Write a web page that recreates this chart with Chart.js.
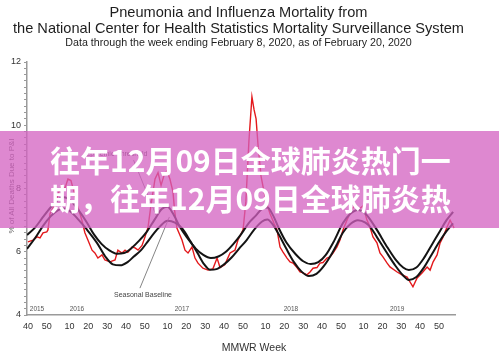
<!DOCTYPE html>
<html>
<head>
<meta charset="utf-8">
<script src="https://cdn.jsdelivr.net/npm/chart.js@4.4.1/dist/chart.umd.min.js"></script>
<style>
  html, body { margin: 0; padding: 0; background: #fff; }
  #wrap { position: relative; width: 499px; height: 359px; overflow: hidden; font-family: "Liberation Sans", Arial, sans-serif; }
  #chart { position: absolute; left: 0; top: 0; }
  .ttl { position: absolute; left: 0; width: 477px; text-align: center; color: #1e1e1e; white-space: nowrap; }
  #t1 { top: 4px; font-size: 14.6px; line-height: 17px; }
  #t2 { top: 20px; font-size: 14.6px; line-height: 17px; }
  #t3 { top: 36px; font-size: 10.7px; line-height: 13px; }
  #xt { position: absolute; left: 204px; width: 100px; top: 341px; text-align: center; font-size: 10.5px; line-height: 12px; color: #333; }
  #yt { position: absolute; left: -48px; top: 181px; width: 120px; text-align: center; font-size: 8px; line-height: 10px; color: #555; transform: rotate(-90deg); white-space: nowrap; }
  #band { position: absolute; left: 0; top: 131px; width: 499px; height: 97px; background: rgba(211, 96, 192, 0.75); }
  .cn { position: absolute; left: 50px; font-family: "Noto Sans CJK SC", sans-serif; font-weight: bold; font-size: 30px; line-height: 38px; color: #fff; white-space: nowrap; }
  #c1 { top: 140px; }
  #c2 { top: 178px; }
</style>
</head>
<body>
<div id="wrap">
  <canvas id="chart" width="499" height="359"></canvas>
  <div class="ttl" id="t1">Pneumonia and Influenza Mortality from</div>
  <div class="ttl" id="t2">the National Center for Health Statistics Mortality Surveillance System</div>
  <div class="ttl" id="t3">Data through the week ending February 8, 2020, as of February 20, 2020</div>
  <div id="yt">% of All Deaths Due to P&amp;I</div>
  <div id="xt">MMWR Week</div>
  <div id="band"></div>
  <div class="cn" id="c1">往年12月09日全球肺炎热门一</div>
  <div class="cn" id="c2">期，往年12月09日全球肺炎热</div>
</div>
<script>
// weeks counted from MMWR week 40 of 2015 (0 = 2015 wk40)
const startWeek = 40;
const weeksPerYear = 52;
const xTickWeeks = [40, 50, 10, 20, 30, 40, 50, 10, 20, 30, 40, 50, 10, 20, 30, 40, 50, 10, 20, 30, 40, 50];

const yearLabels = ['2015', '2016', '2017', '2018', '2019'];
const yearWeek = [4.8, 26, 81.7, 139.5, 195.8];

// % of all deaths due to P&I (red)
const redWeek = [0, 2.7, 4.8, 6.4, 8, 10, 10.6, 11.7, 13.3, 14.9, 16.4, 18, 19.6, 21.2, 22.8, 24.4, 26, 27.6, 28.6, 30.2,
  31.8, 34, 35.5, 37.1, 39.3, 40.8, 43.5, 46.2, 47.7, 49.9, 51.5, 53, 55.2, 56.8, 58.4, 60.5, 62.1, 63.7, 65.3, 67.4,
  69, 70.6, 72.1, 73.7, 75.3, 76.9, 77.8, 79, 81.7, 83.3, 84.9, 87, 88.6, 90.2, 92.8, 95.5, 98.1, 100.3, 101.9, 104.5,
  107.2, 109.8, 111.4, 114.1, 115.6, 117.2, 118.8, 119.9, 121, 122, 123.6, 125.2, 126.8, 128.4, 130.5, 132.1, 133.7, 135.3, 137.4, 139,
  140.6, 142.7, 144.3, 145.9, 148, 149.6, 151.2, 153.3, 154.9, 156.5, 158.6, 160.2, 161.8, 163.9, 165.5, 167.1, 169.2, 171.4, 173.5, 175.6,
  177.7, 179.8, 181.4, 183, 185.1, 186.7, 188.3, 190.5, 192, 195.8, 198.4, 201.1, 204.2, 206.4, 209, 211.7, 213.3, 214.9, 217, 218.6,
  220.2, 222.3, 223.9, 226];
const redPct = [6.31, 6.37, 6.47, 6.44, 6.6, 6.63, 6.69, 7.2, 7.4, 7.6, 7.9, 8.1, 8.0, 8.3, 8.25, 7.9, 7.5, 7.2, 7.0, 6.6,
  6.37, 6.05, 5.96, 5.8, 5.9, 5.74, 5.68, 5.74, 6.05, 5.96, 6.05, 5.98, 6.15, 6.12, 6.05, 6.2, 6.47, 6.78, 7.5, 8.3,
  8.5, 8.1, 8.4, 8.55, 8.3, 7.9, 7.3, 6.75, 6.37, 6.05, 5.96, 6.15, 5.8, 5.64, 5.48, 5.42, 5.46, 5.8, 5.5, 5.6,
  5.96, 6.05, 6.37, 6.69, 7.6, 9.5, 10.9, 10.5, 10.2, 9.4, 8.4, 7.9, 7.5, 7.2, 6.9, 6.69, 6.15, 5.99, 5.8, 5.68,
  5.64, 5.5, 5.36, 5.33, 5.27, 5.36, 5.48, 5.5, 5.64, 5.66, 5.8, 5.84, 5.96, 6.15, 6.37, 6.69, 7.0, 7.3, 7.5, 7.35,
  7.45, 7.0, 6.78, 6.47, 6.28, 5.96, 5.84, 5.64, 5.52, 5.36, 5.27, 5.2, 4.89, 5.17, 5.33, 5.52, 5.42, 5.68, 5.9, 6.28,
  6.47, 6.78, 7.0, 6.75];

// epidemic threshold (upper black)
const threshWeek = [-0.5, 4, 8, 12, 16, 19, 23, 27, 31, 35, 39, 43, 47, 51, 55, 59, 63, 67, 71, 74,
  77, 80.6, 85, 89, 93, 97, 101, 105, 109, 113, 117, 121, 124, 127, 130, 133, 137, 142, 146, 150,
  154, 158, 162, 167, 171, 175, 179, 185, 190, 195, 199, 202, 206, 210, 214, 218, 222, 225.5];
const threshPct = [6.53, 6.78, 7.1, 7.4, 7.65, 7.72, 7.6, 7.3, 6.95, 6.55, 6.25, 6.05, 5.94, 5.96, 6.12, 6.35, 6.63, 7.0, 7.35, 7.42,
  7.2, 6.78, 6.4, 6.1, 5.9, 5.8, 5.85, 6.0, 6.25, 6.55, 6.9, 7.15, 7.35, 7.4, 7.15, 6.75, 6.3, 5.92, 5.7, 5.61,
  5.67, 5.9, 6.3, 6.9, 7.2, 7.32, 7.2, 6.7, 6.2, 5.75, 5.5, 5.42, 5.5, 5.8, 6.2, 6.6, 7.0, 7.26];

// seasonal baseline (lower black)
const baseWeek = [-0.5, 4, 8, 12, 16, 19, 23, 27, 31, 36.6, 41, 45, 49, 53, 56, 60, 63, 67, 70, 74,
  78, 82, 86, 90, 93.5, 96.6, 100, 104, 108, 112, 116, 120, 124, 127, 130, 133, 137, 141, 145, 149,
  153, 157, 161, 164, 167, 171, 175, 179, 182, 185, 190, 195, 199, 202, 206, 210, 214, 218, 222, 225.5];
const basePct = [6.09, 6.45, 6.82, 7.12, 7.32, 7.37, 7.25, 7.0, 6.72, 6.28, 5.85, 5.6, 5.57, 5.68, 5.84, 6.05, 6.28, 6.6, 6.8, 6.98,
  6.92, 6.72, 6.35, 5.95, 5.6, 5.43, 5.45, 5.6, 5.82, 6.1, 6.37, 6.7, 6.95, 7.02, 6.85, 6.55, 6.1, 5.68, 5.38, 5.23,
  5.3, 5.55, 5.92, 6.25, 6.6, 6.88, 7.0, 6.92, 6.75, 6.47, 6.0, 5.55, 5.25, 5.11, 5.2, 5.5, 5.9, 6.3, 6.65, 6.9];

// position (week index) of each x tick label
const tickIdx = [];
{
  let idx = 0, wk = startWeek, j = 0;
  while (j < xTickWeeks.length) {
    if (wk === xTickWeeks[j]) { tickIdx.push(idx); j++; }
    idx++; wk++;
    if (wk > weeksPerYear) wk = 1;
  }
}

const pts = (xs, ys) => xs.map((x, i) => ({ x: x, y: ys[i] }));

const notes = {
  id: 'notes',
  afterDatasetsDraw(chart) {
    const { ctx, scales: { x, y } } = chart;
    ctx.save();
    ctx.fillStyle = '#555';
    ctx.textAlign = 'center';
    ctx.textBaseline = 'middle';
    ctx.font = '6.5px "Liberation Sans", Arial, sans-serif';
    yearLabels.forEach((t, i) => ctx.fillText(t, x.getPixelForValue(yearWeek[i]), y.getPixelForValue(4.19)));

    ctx.font = '7px "Liberation Sans", Arial, sans-serif';
    ctx.fillStyle = '#444';
    ctx.fillText('Seasonal Baseline', x.getPixelForValue(61), y.getPixelForValue(4.63));
    ctx.fillText('Epidemic Threshold', x.getPixelForValue(47), y.getPixelForValue(9.1));

    ctx.strokeStyle = '#666';
    ctx.lineWidth = 0.8;
    ctx.beginPath();
    ctx.moveTo(x.getPixelForValue(59.4), y.getPixelForValue(4.85));
    ctx.lineTo(x.getPixelForValue(75), y.getPixelForValue(7.1));
    ctx.moveTo(x.getPixelForValue(56), y.getPixelForValue(8.9));
    ctx.lineTo(x.getPixelForValue(68), y.getPixelForValue(7.15));
    ctx.stroke();
    ctx.restore();
  }
};

new Chart(document.getElementById('chart').getContext('2d'), {
  type: 'line',
  data: {
    datasets: [
      { label: 'P&I', data: pts(redWeek, redPct), borderColor: '#e3191c', borderWidth: 1.4, pointRadius: 0, tension: 0, order: 3 },
      { label: 'Epidemic Threshold', data: pts(threshWeek, threshPct), borderColor: '#141414', borderWidth: 2, pointRadius: 0, cubicInterpolationMode: 'monotone', order: 1 },
      { label: 'Seasonal Baseline', data: pts(baseWeek, basePct), borderColor: '#141414', borderWidth: 2, pointRadius: 0, cubicInterpolationMode: 'monotone', order: 2 }
    ]
  },
  options: {
    responsive: false,
    animation: false,
    events: [],
    layout: { padding: { top: 62, right: 44, left: 0, bottom: 0 } },
    plugins: { legend: { display: false }, tooltip: { enabled: false } },
    scales: {
      x: {
        type: 'linear', min: -0.5, max: 226.5,
        afterFit(a) { a.height = 44; },
        afterBuildTicks(a) { a.ticks = tickIdx.map(v => ({ value: v })); },
        ticks: { autoSkip: false, maxRotation: 0, padding: 6, color: '#333', font: { size: 9, family: '"Liberation Sans", Arial' },
          callback: (v, i) => String(xTickWeeks[i]) },
        grid: { drawOnChartArea: false, drawTicks: false },
        border: { color: '#9a9a9a', width: 1.5 }
      },
      y: {
        min: 4, max: 12,
        afterFit(a) { a.width = 27; },
        ticks: { stepSize: 0.2, autoSkip: false, padding: 3, color: '#333', font: { size: 9, family: '"Liberation Sans", Arial' },
          callback: (v) => { const r = Math.round(v); return (Math.abs(v - r) < 1e-6 && r % 2 === 0) ? String(r) : ''; } },
        grid: { drawOnChartArea: false, drawTicks: true, tickLength: 3, color: '#999' },
        border: { color: '#9a9a9a', width: 1.5 }
      }
    }
  },
  plugins: [notes]
});
</script>
</body>
</html>
